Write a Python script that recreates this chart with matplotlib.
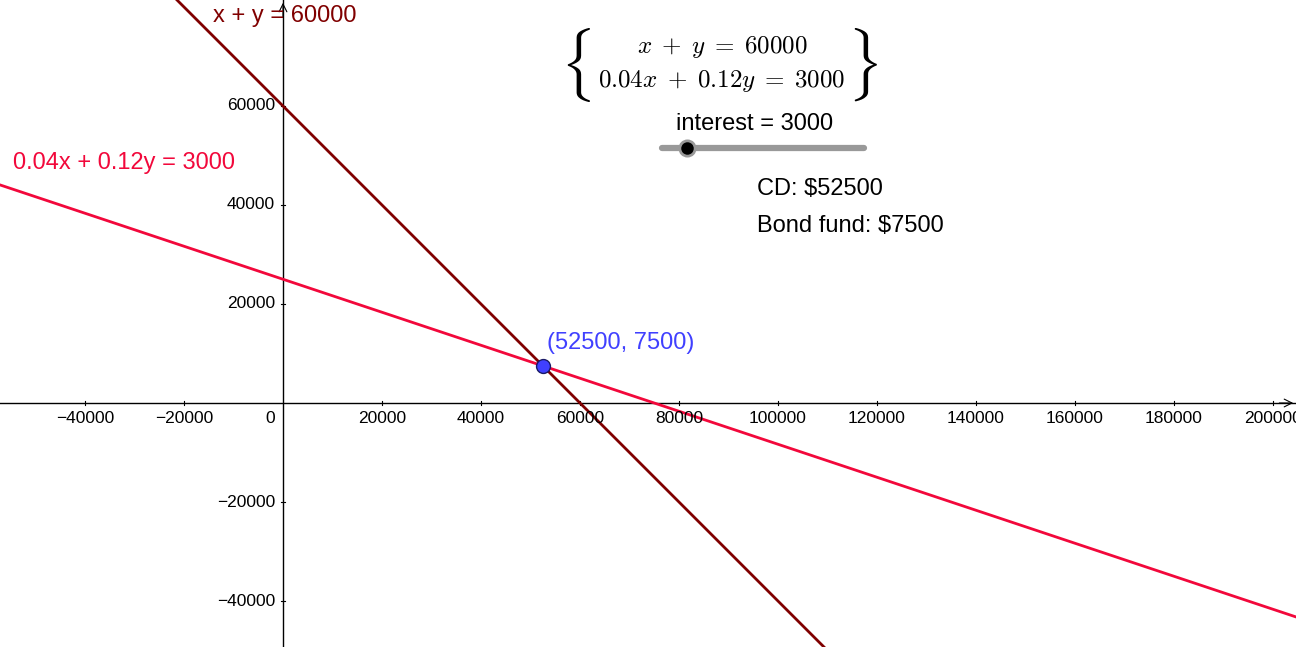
import numpy as np
import matplotlib
matplotlib.use("Agg")
import matplotlib.pyplot as plt

plt.rcParams['font.family'] = ['Liberation Sans', 'DejaVu Sans']
plt.rcParams['mathtext.fontset'] = 'cm'

# view window (data units)
x_min, x_max = -57170, 204650
y_min, y_max = -49290, 81410

# two lines, each through two points
line1 = [(0, 60000), (60000, 0)]      # x + y = 60000
line2 = [(0, 25000), (75000, 0)]      # 0.04x + 0.12y = 3000
solution = (52500, 7500)

x_ticks = [-40000, -20000, 20000, 40000, 60000, 80000, 100000, 120000,
           140000, 160000, 180000, 200000]
y_ticks = [-40000, -20000, 20000, 40000, 60000]

dark_red = '#800000'
red = '#f2083b'
blue = '#4040ff'

W, H = 1296, 647
fig = plt.figure(figsize=(W / 100, H / 100), dpi=100)
ax = fig.add_axes([0, 0, 1, 1])
ax.set_xlim(x_min, x_max)
ax.set_ylim(y_min, y_max)
ax.axis('off')

def px(x, y):
    # pixel position -> axes fraction
    return x / W, 1 - y / H

# axes
ax.plot([x_min, x_max], [0, 0], color='black', lw=1, zorder=1)
ax.plot([0, 0], [y_min, y_max], color='black', lw=1, zorder=1)
ax.annotate('', xy=(1.0, 0), xytext=(0.985, 0), xycoords=('axes fraction', 'data'),
            arrowprops=dict(arrowstyle='->', lw=0.8, color='black', mutation_scale=14))
ax.annotate('', xy=(0, 1.0), xytext=(0, 0.97), xycoords=('data', 'axes fraction'),
            arrowprops=dict(arrowstyle='->', lw=0.8, color='black', mutation_scale=14))

for t in x_ticks:
    ax.plot([t, t], [-500, 500], color='black', lw=0.8, zorder=1)
    ax.text(t, -1700, str(t).replace('-', '\u2212'), ha='center', va='top', fontsize=12.5)
for t in y_ticks:
    ax.plot([-500, 500], [t, t], color='black', lw=0.8, zorder=1)
    ax.text(-1600, t, str(t).replace('-', '\u2212'), ha='right', va='center', fontsize=12.5)
ax.text(-1700, -1700, '0', ha='right', va='top', fontsize=12.5)

# lines
ax.axline(line1[0], line1[1], color=dark_red, lw=2, zorder=2)
ax.axline(line2[0], line2[1], color=red, lw=2, zorder=2)

ax.plot(*solution, 'o', ms=10, mfc=blue, mec='#1a1a66', mew=1, zorder=3)
ax.text(solution[0] + 800, solution[1] + 2300, '(52500, 7500)', color=blue,
        fontsize=17, ha='left', va='bottom')

ax.text(*px(213, 16), 'x + y = 60000', transform=ax.transAxes, color=dark_red,
        fontsize=17, ha='left', va='center')
ax.text(*px(13, 163), '0.04x + 0.12y = 3000', transform=ax.transAxes, color=red,
        fontsize=17, ha='left', va='center')

# equation system
ax.text(*px(722, 47), r'$x\;+\;y\;=\;60000$', transform=ax.transAxes, fontsize=18,
        ha='center', va='center')
ax.text(*px(722, 81), r'$0.04x\;+\;0.12y\;=\;3000$', transform=ax.transAxes, fontsize=18,
        ha='center', va='center')
ax.text(*px(575, 65), r'$\{$', transform=ax.transAxes, fontsize=44,
        ha='center', va='center')
ax.text(*px(862, 65), r'$\}$', transform=ax.transAxes, fontsize=44,
        ha='center', va='center')

# slider
ax.text(*px(755, 124), 'interest = 3000', transform=ax.transAxes, fontsize=17,
        ha='center', va='center')
ax.plot([662 / W, 864 / W], [1 - 148 / H] * 2, transform=ax.transAxes,
        color='#999999', lw=4.5, solid_capstyle='round')
ax.plot(687 / W, 1 - 148 / H, 'o', transform=ax.transAxes, ms=13,
        mfc='#999999', mec='none')
ax.plot(687 / W, 1 - 148 / H, 'o', transform=ax.transAxes, ms=9,
        mfc='black', mec='none')

ax.text(*px(757, 189), 'CD: $52500', transform=ax.transAxes, fontsize=17,
        ha='left', va='center')
ax.text(*px(757, 226), 'Bond fund: $7500', transform=ax.transAxes, fontsize=17,
        ha='left', va='center')

fig.savefig('out.png', dpi=100)
